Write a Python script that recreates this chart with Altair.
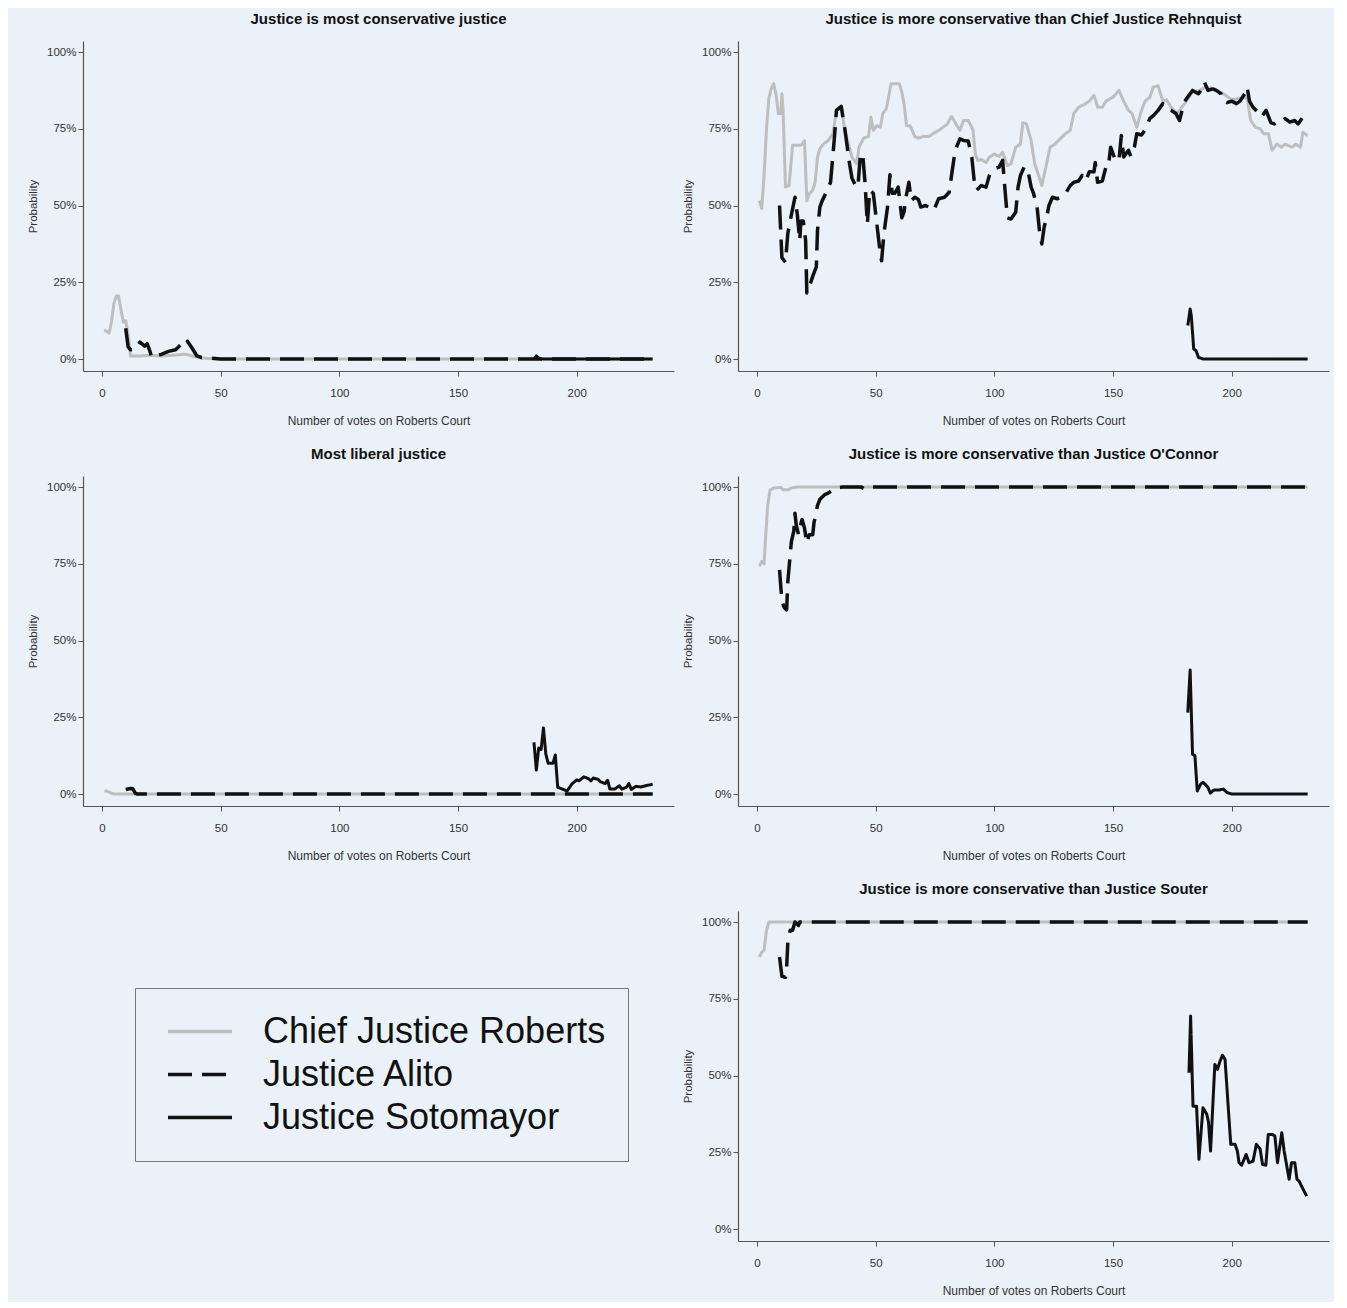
import altair as alt
import pandas as pd

FONT = "Liberation Sans"
BG = "#EAF1F8"

SERIES = ["Chief Justice Roberts", "Justice Alito", "Justice Sotomayor"]
COLORS = ["#BEBEBE", "#111111", "#111111"]
DASHES = [[1, 0], [24, 10], [1, 0]]
WIDTHS = [3.0, 3.5, 3.0]

TITLES = [
    "Justice is most conservative justice",
    "Most liberal justice",
    "Justice is more conservative than Chief Justice Rehnquist",
    "Justice is more conservative than Justice O'Connor",
    "Justice is more conservative than Justice Souter",
]
X_TICKS = [0, 50, 100, 150, 200]
Y_TICKS = [0, 0.25, 0.5, 0.75, 1.0]
X_TITLE = "Number of votes on Roberts Court"
Y_TITLE = "Probability"

# (vote number, probability in %)
CONS_ROBERTS = [(1, 9.5), (2, 9), (3, 8.5), (4, 12), (5, 18), (6, 20.5), (7, 20.5), (8, 16), (9, 12),
                (10, 12.5), (11, 8), (12, 1), (16, 1), (20, 1.2), (25, 1), (30, 1.2), (35, 1.6), (38, 1),
                (42, 0.3), (50, 0), (232, 0)]
CONS_ALITO = [(10, 10), (11, 4), (12, 3), (14, 3), (16, 5.5), (18, 4.2), (19, 5), (20, 3), (21, 0.5),
              (25, 1.5), (28, 2.5), (31, 3), (33, 4.5), (35, 4), (36, 5.8), (38, 3.5), (40, 1), (42, 0.5),
              (46, 0.3), (50, 0), (232, 0)]
CONS_SOTOMAYOR = [(182, 0), (183, 1), (184, 0.3), (186, 0), (232, 0)]

LIB_ROBERTS = [(1, 1), (2, 1), (3, 0.6), (5, 0), (232, 0)]
LIB_ALITO = [(10, 1.5), (12, 1.8), (13, 1.7), (14, 0.3), (15, 0), (232, 0)]
LIB_SOTOMAYOR = [(182, 16.8), (183, 7.8), (184, 15), (185, 14.5), (186, 21.5), (187, 13), (188, 10),
                 (190, 10), (191, 12.7), (192, 2.2), (194, 1.6), (196, 1), (198, 3.3), (200, 4.6),
                 (201, 4.3), (203, 5.6), (205, 5), (206, 4.3), (207, 5.2), (209, 4.8), (210, 4),
                 (212, 3.4), (213, 4.5), (214, 1.6), (216, 1.6), (218, 2.7), (219, 1.6), (221, 2.2),
                 (222, 3.4), (223, 1.5), (225, 2.5), (227, 2.3), (229, 2.7), (232, 3.2)]

REHN_ROBERTS = [(1, 51.6), (2, 49), (3, 60), (4, 75), (5, 85), (6, 88), (7, 89.7), (8, 86.4), (9, 80),
                (10, 80), (10.5, 86.4), (11, 81), (12, 56), (13.5, 56.5), (15, 69.6), (18, 69.6), (19, 70),
                (20, 71.2), (21, 51.6), (22, 53.8), (23.5, 55), (24.5, 57.6), (25.5, 65.8), (26.5, 68.5),
                (28, 70), (30, 71.2), (32, 73.4), (33.5, 81), (35.5, 82.3), (37, 74.5), (40, 65.8),
                (42, 63.6), (43, 69), (45, 72), (47, 72.5), (48, 78.8), (49, 74.5), (50.5, 76), (52, 75.5),
                (53, 80), (54.5, 81.5), (56.5, 89.7), (60, 89.7), (61, 87), (62, 83), (63, 76), (64.5, 76),
                (66.5, 72.5), (68, 72), (70, 72.5), (72.5, 72.5), (74.5, 73.6), (77, 74.7), (80, 76.4),
                (82, 79), (83.5, 77), (85.5, 74.5), (87, 77.7), (89, 77.7), (91, 74.7), (92, 66.8),
                (93, 64.7), (94.5, 65), (96.5, 64), (98, 65.8), (100, 66.8), (102, 66), (103.5, 67.4),
                (105.5, 63), (107, 63.6), (109, 69), (111, 70), (112, 77), (113.5, 76.6), (115.5, 71.2),
                (117, 63.6), (119, 59), (120, 56.5), (122, 63.6), (123.5, 69), (125.5, 70), (127, 71.2),
                (130, 73.4), (132, 74.5), (133.5, 80), (135.5, 82), (138, 83), (140, 84), (142, 85.9),
                (143.5, 82), (145.5, 82), (147, 84), (150, 85.3), (152.5, 87.5), (154.5, 84), (156.5, 81),
                (158, 80), (160, 75.5), (162, 81), (163.5, 84), (165.5, 85.3), (167, 88.6), (169, 89),
                (171, 84), (172.5, 84.5), (174.5, 82), (177, 80), (180, 83), (182, 85.3), (183.5, 87),
                (186.5, 87.5), (189, 88.6), (192.5, 88), (196.5, 86.4), (200, 84.5), (203.5, 85),
                (206.5, 85), (208, 77.7), (210, 75.5), (212, 75), (213.5, 73.4), (215.5, 73.4), (217, 68),
                (219, 70), (221, 69), (222.5, 70), (225.5, 69), (227, 70), (229, 69), (230, 73.9),
                (232, 72.8)]
REHN_ALITO = [(9.5, 50), (10.5, 33), (12, 31.5), (13, 41), (14.5, 47), (16, 52.7), (17, 47), (18, 38.6),
              (18.5, 45), (19.5, 45), (20.5, 38.6), (21, 21.5), (22, 23.4), (23.5, 27), (25, 30), (25.5, 42),
              (26.5, 49.5), (27.5, 51.6), (29, 54), (31, 57.6), (32.5, 71), (33.5, 81), (35.5, 82.3),
              (37, 75), (39, 63.6), (40, 59), (41.5, 56.5), (42.5, 56), (43.5, 65.8), (44.5, 67),
              (45.5, 57.6), (46.5, 44), (47.5, 55), (49, 54), (50.5, 44), (52, 34), (52.5, 32), (53.5, 41),
              (55, 49.5), (56, 60), (57, 54), (58, 54), (59.5, 56), (61, 46), (62, 48), (62.5, 51.6),
              (64, 57.6), (65, 51.6), (66.5, 52.7), (68, 52), (69, 49.5), (71, 50), (72.5, 49.5),
              (74.5, 48.4), (76.5, 52.2), (79, 52.7), (81, 54.3), (82, 60), (83.5, 68), (85.5, 71.7),
              (87, 71.2), (89, 71), (90.5, 65.8), (91.5, 58.2), (92.5, 55), (94.5, 56.5), (96.5, 56),
              (98, 60), (100, 62), (102, 62.5), (103.5, 64.7), (104.5, 55), (105.5, 46), (107, 45.6),
              (109, 47.8), (110, 56), (111, 59.8), (112.5, 62.5), (114, 62), (115.5, 56), (116.5, 54),
              (118, 49.5), (119, 42), (120, 37.5), (121, 43), (122, 46), (123, 50), (124.5, 52.7),
              (126.5, 52.2), (128, 52.7), (130, 54), (132, 56.5), (133.5, 57.6), (135.5, 58), (137, 59.8),
              (138.5, 58), (140, 61), (142, 61), (142.5, 64), (143.5, 57.6), (145.5, 58), (147, 62.5),
              (148, 62.5), (149, 69), (151, 64.7), (152.5, 64.7), (153.5, 72.8), (154.5, 65.8), (156.5, 68),
              (157.5, 66), (159, 69), (160, 73.4), (162, 73), (163.5, 74.7), (165.5, 78.3), (167, 79.3),
              (169, 81), (171, 83.2), (172.5, 81.5), (174.5, 81), (176.5, 80), (178, 77.7), (180, 83.7),
              (182, 85.9), (183.5, 87.5), (186, 86.4), (187.5, 88), (188.5, 90.2), (190, 87.5), (192, 88),
              (193.5, 87.5), (195.5, 86.4), (196.5, 84), (198, 83.5), (200, 84), (202, 83.2), (203.5, 84),
              (205.5, 86.4), (206.5, 88.6), (207.5, 84), (209, 82), (211, 80.4), (212.5, 78.8), (214.5, 81),
              (216.5, 77), (218, 76.6), (219.5, 77.7), (221.5, 77.7), (222.5, 78.3), (224.5, 77.2),
              (226.5, 77.7), (228, 76.6), (230, 78.8), (232, 80.4)]
REHN_SOTOMAYOR = [(181.5, 10.9), (182.5, 16.3), (183, 14), (184, 3.3), (185, 2.7), (186, 0.5), (187, 0.3),
                  (188, 0), (232, 0)]

OCON_ROBERTS = [(1, 74.2), (2, 75.8), (3, 75), (3.5, 82), (4.5, 94), (5.5, 99), (7, 99.7), (10, 99.9),
                (11, 99.1), (13, 99.1), (14.5, 99.7), (17, 100), (232, 100)]
OCON_ALITO = [(9.5, 73), (10.5, 62.8), (11.5, 60.7), (12.5, 60), (13, 69.3), (14, 78), (14.5, 82.3),
              (15.5, 85.6), (16, 91.5), (16.5, 87.8), (17.5, 84.5), (18, 86.7), (19, 89.4), (20, 86.7),
              (21, 81.8), (22, 84.5), (23.5, 84.5), (24, 88.3), (25.5, 94), (26.5, 96), (28.5, 97.5),
              (30, 98), (32, 99.1), (33.5, 99.7), (36, 100), (44, 100), (45, 99.5), (46, 100), (232, 100)]
OCON_SOTOMAYOR = [(181.5, 26.5), (182.5, 40.4), (183, 26.5), (183.5, 13), (184.5, 12.5), (185.5, 1),
                  (187, 3.3), (188, 3.8), (190, 2.2), (191, 0.3), (192.5, 1.3), (194.5, 1.3), (196.5, 1.6),
                  (198, 0.5), (200, 0), (232, 0)]

SOUT_ROBERTS = [(1, 88.6), (2, 90.2), (3, 90.8), (4, 97.3), (5, 100), (232, 100)]
SOUT_ALITO = [(9.5, 88.6), (10.5, 82.3), (12, 82), (12.5, 85.3), (13, 93.5), (14, 97.3), (15, 97.3),
              (16, 100), (17.5, 98.9), (18, 100), (232, 100)]
SOUT_SOTOMAYOR = [(182, 50.9), (182.7, 69.4), (183.7, 40), (185.2, 40), (186.2, 22.7), (187.9, 39.5),
                  (189.5, 37.4), (190.2, 35), (191.1, 25.4), (192.9, 53.6), (194, 52), (195.1, 54.7),
                  (196.1, 56.6), (197.2, 55.3), (199.6, 27.6), (201.4, 27.6), (202.4, 25.4), (203.1, 21.6),
                  (204.2, 20.8), (206.1, 24.3), (207.3, 21.6), (209, 22.1), (210.4, 27.6), (212, 26),
                  (213, 21), (214.4, 20.8), (215.4, 30.8), (217.2, 30.8), (218.2, 30.3), (219.3, 21.6),
                  (221.1, 31.4), (222.1, 25.4), (224.2, 16.2), (225.2, 21.6), (226.6, 21.6), (227.5, 16.2),
                  (228.4, 15.6), (229.8, 13.4), (231.6, 10.7)]

PANEL_DATA = {
    TITLES[0]: [CONS_ROBERTS, CONS_ALITO, CONS_SOTOMAYOR],
    TITLES[1]: [LIB_ROBERTS, LIB_ALITO, LIB_SOTOMAYOR],
    TITLES[2]: [REHN_ROBERTS, REHN_ALITO, REHN_SOTOMAYOR],
    TITLES[3]: [OCON_ROBERTS, OCON_ALITO, OCON_SOTOMAYOR],
    TITLES[4]: [SOUT_ROBERTS, SOUT_ALITO, SOUT_SOTOMAYOR],
}

rows = []
for title, lists in PANEL_DATA.items():
    for name, pts in zip(SERIES, lists):
        for i, (v, p) in enumerate(pts):
            rows.append({"panel": title, "series": name, "vote": v, "prob": p / 100.0, "idx": i})
df = pd.DataFrame(rows)

W, H = 591, 330

LEGEND = alt.Legend(
    title=None, orient="none", legendX=52, legendY=947, direction="vertical",
    labelFont=FONT, labelFontSize=36, labelColor="#111111", labelLimit=0,
    symbolType="stroke", symbolSize=4096, symbolStrokeWidth=3.5,
    clipHeight=43, rowPadding=0, padding=22, labelOffset=29, symbolOffset=9,
    strokeColor="#777777", fillColor=BG,
)


def panel(title):
    base = alt.Chart(df).transform_filter(alt.datum.panel == title)
    layers = []
    for s, w in zip(SERIES, WIDTHS):
        layers.append(
            base.transform_filter(alt.datum.series == s)
            .mark_line(strokeWidth=w, strokeCap="butt", strokeJoin="round")
            .encode(
                x=alt.X("vote:Q",
                        scale=alt.Scale(domain=[-8, 241], nice=False, zero=False),
                        axis=alt.Axis(values=X_TICKS, title=X_TITLE, format="d")),
                y=alt.Y("prob:Q",
                        scale=alt.Scale(domain=[-0.039, 1.036], nice=False, zero=False),
                        axis=alt.Axis(values=Y_TICKS, format=".0%", title=Y_TITLE)),
                order=alt.Order("idx:Q"),
                color=alt.Color("series:N", scale=alt.Scale(domain=SERIES, range=COLORS), legend=LEGEND),
                strokeDash=alt.StrokeDash("series:N", scale=alt.Scale(domain=SERIES, range=DASHES),
                                          legend=LEGEND),
            )
        )
    return alt.layer(*layers).properties(width=W, height=H, title=alt.TitleParams(title))


SP_V = 20
left = alt.vconcat(panel(TITLES[0]), panel(TITLES[1]), spacing=SP_V)
right = alt.vconcat(panel(TITLES[2]), panel(TITLES[3]), panel(TITLES[4]), spacing=SP_V)

chart = (
    alt.hconcat(left, right, spacing=8)
    .properties(background=BG, padding={"left": 19, "top": 4, "right": 5, "bottom": 5})
    .configure_view(stroke=None)
    .configure_axis(
        grid=False, domainColor="#555555", domainWidth=1.2, tickColor="#555555", tickWidth=1,
        tickSize=5, labelColor="#333333", labelFont=FONT, labelFontSize=11.5,
        titleFont=FONT, titleFontSize=12, titleColor="#333333", titleFontWeight="normal",
    )
    .configure_axisX(labelPadding=11, titlePadding=17)
    .configure_axisY(labelPadding=2, titlePadding=8, titleFontSize=11.5)
    .configure_title(font=FONT, fontSize=15, fontWeight="bold", color="#111111", offset=14, anchor="middle")
)

chart.save("out.html", embed_options={"renderer": "svg", "actions": False})
